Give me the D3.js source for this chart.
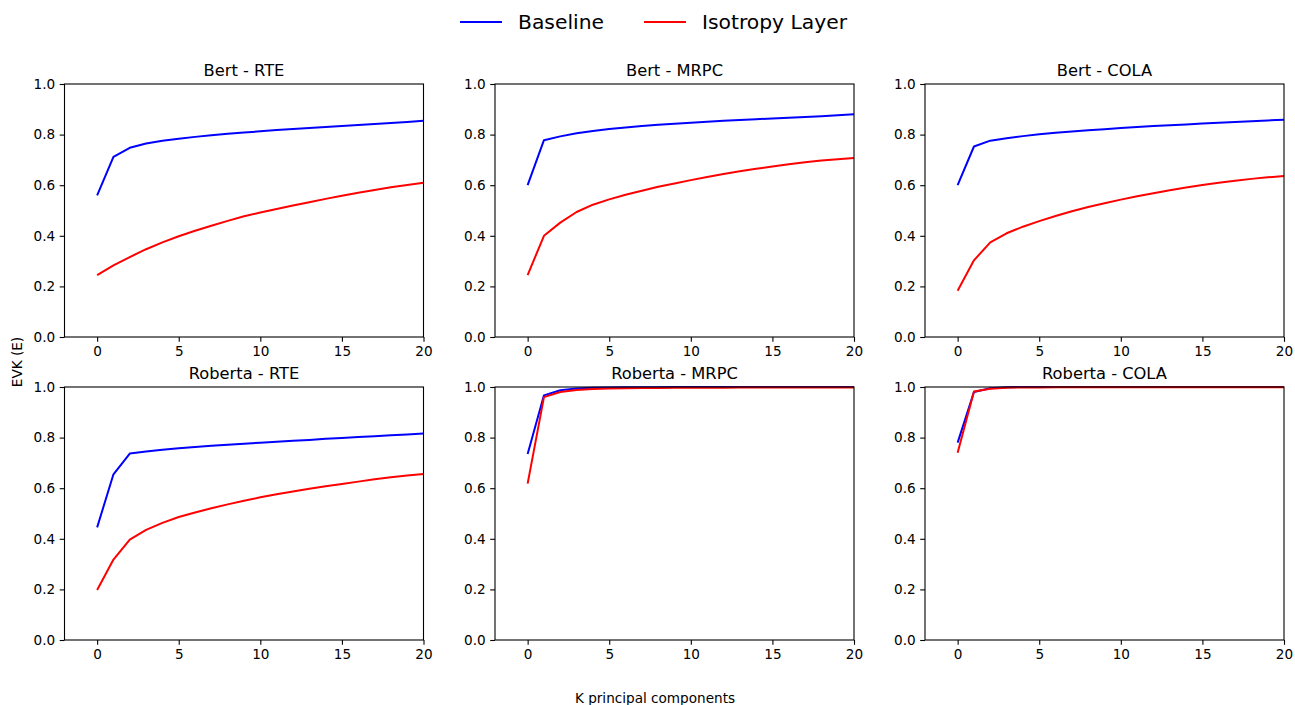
<!DOCTYPE html>
<html>
<head>
<meta charset="utf-8">
<script src="https://cdn.jsdelivr.net/npm/d3@7"></script>
<style>
  body { margin: 0; background: #fff; }
  svg { font-family: "DejaVu Sans", sans-serif; }
</style>
</head>
<body>
<svg id="chart" width="1295" height="705"></svg>
<script>
// K principal components 0..20
const kValues = d3.range(0, 21);

const panelTitles = [
    'Bert - RTE', 'Bert - MRPC', 'Bert - COLA',
    'Roberta - RTE', 'Roberta - MRPC', 'Roberta - COLA'
];

const seriesNames = ['Baseline', 'Isotropy Layer'];
const seriesColors = ['#0000ff', '#ff0000'];

const bertRteBaseline = [0.560, 0.712, 0.748, 0.765, 0.776, 0.784, 0.791, 0.797, 0.803, 0.808, 0.813,
    0.818, 0.822, 0.826, 0.830, 0.834, 0.838, 0.842, 0.846, 0.850, 0.855];
const bertRteIsotropy = [0.245, 0.283, 0.316, 0.347, 0.374, 0.398, 0.420, 0.440, 0.459, 0.477, 0.492,
    0.506, 0.520, 0.533, 0.546, 0.558, 0.570, 0.581, 0.592, 0.601, 0.610];

const bertMrpcBaseline = [0.600, 0.778, 0.793, 0.805, 0.814, 0.822, 0.828, 0.834, 0.839, 0.843, 0.847,
    0.851, 0.855, 0.858, 0.861, 0.864, 0.867, 0.870, 0.873, 0.876, 0.880];
const bertMrpcIsotropy = [0.245, 0.400, 0.452, 0.494, 0.523, 0.544, 0.562, 0.578, 0.594, 0.607, 0.620,
    0.632, 0.644, 0.655, 0.665, 0.674, 0.683, 0.691, 0.698, 0.703, 0.708];

const bertColaBaseline = [0.600, 0.753, 0.776, 0.786, 0.794, 0.801, 0.807, 0.812, 0.817, 0.821, 0.826,
    0.830, 0.834, 0.837, 0.840, 0.844, 0.847, 0.850, 0.853, 0.856, 0.859];
const bertColaIsotropy = [0.183, 0.303, 0.374, 0.410, 0.436, 0.458, 0.478, 0.497, 0.514, 0.529, 0.543,
    0.556, 0.568, 0.580, 0.591, 0.601, 0.610, 0.618, 0.625, 0.631, 0.636];

const robertaRteBaseline = [0.445, 0.655, 0.737, 0.745, 0.752, 0.758, 0.763, 0.768, 0.772, 0.776, 0.780,
    0.784, 0.788, 0.791, 0.795, 0.798, 0.802, 0.805, 0.809, 0.812, 0.816];
const robertaRteIsotropy = [0.198, 0.318, 0.397, 0.435, 0.463, 0.486, 0.504, 0.521, 0.536, 0.550, 0.564,
    0.576, 0.587, 0.598, 0.608, 0.617, 0.626, 0.635, 0.643, 0.650, 0.656];

const robertaMrpcBaseline = [0.735, 0.967, 0.987, 0.994, 0.997, 0.998, 0.999, 0.999, 0.999, 1.000, 1.000,
    1.000, 1.000, 1.000, 1.000, 1.000, 1.000, 1.000, 1.000, 1.000, 1.000];
const robertaMrpcIsotropy = [0.618, 0.960, 0.980, 0.988, 0.992, 0.994, 0.995, 0.996, 0.996, 0.997, 0.997,
    0.997, 0.997, 0.998, 0.998, 0.998, 0.998, 0.998, 0.998, 0.998, 0.998];

const robertaColaBaseline = [0.780, 0.980, 0.995, 0.999, 1.000, 1.000, 1.000, 1.000, 1.000, 1.000, 1.000,
    1.000, 1.000, 1.000, 1.000, 1.000, 1.000, 1.000, 1.000, 1.000, 1.000];
const robertaColaIsotropy = [0.740, 0.982, 0.993, 0.997, 0.998, 0.998, 0.999, 0.999, 0.999, 0.999, 0.999,
    0.999, 0.999, 0.999, 0.999, 0.999, 0.999, 0.999, 0.999, 0.999, 0.999];

const panelSeries = [
    [bertRteBaseline, bertRteIsotropy],
    [bertMrpcBaseline, bertMrpcIsotropy],
    [bertColaBaseline, bertColaIsotropy],
    [robertaRteBaseline, robertaRteIsotropy],
    [robertaMrpcBaseline, robertaMrpcIsotropy],
    [robertaColaBaseline, robertaColaIsotropy]
];

const xTicks = [0, 5, 10, 15, 20];
const yTicks = [0.0, 0.2, 0.4, 0.6, 0.8, 1.0];

// layout (matplotlib-like grid)
const colLeft = [64.5, 495, 925];
const rowTop = [84, 387];
const axW = 359;
const axH = 253;

const svg = d3.select('#chart');

panelSeries.forEach((series, p) => {
    const col = p % 3;
    const row = Math.floor(p / 3);
    const x0 = colLeft[col];
    const y0 = rowTop[row];

    const x = d3.scaleLinear().domain([-2, 20]).range([0, axW]);
    const y = d3.scaleLinear().domain([0, 1]).range([axH, 0]);

    const g = svg.append('g').attr('transform', `translate(${x0}, ${y0})`);

    g.append('clipPath')
        .attr('id', `clip-${p}`)
        .append('rect')
        .attr('x', 0).attr('y', -1.5)
        .attr('width', axW).attr('height', axH + 3);

    const line = d3.line()
        .x((d, i) => x(kValues[i]))
        .y(d => y(d));

    const plot = g.append('g').attr('clip-path', `url(#clip-${p})`);
    series.forEach((vals, s) => {
        plot.append('path')
            .datum(vals)
            .attr('fill', 'none')
            .attr('stroke', seriesColors[s])
            .attr('stroke-width', 2)
            .attr('stroke-linejoin', 'round')
            .attr('d', line);
    });

    const xAxis = g.append('g')
        .attr('transform', `translate(0, ${axH})`)
        .call(d3.axisBottom(x).tickValues(xTicks).tickSize(4.8).tickPadding(4.5).tickFormat(d3.format('d')));
    const yAxis = g.append('g')
        .call(d3.axisLeft(y).tickValues(yTicks).tickSize(4.8).tickPadding(4.5).tickFormat(d3.format('.1f')));

    [xAxis, yAxis].forEach(a => {
        a.attr('font-size', null).attr('font-family', null);
        a.select('.domain').remove();
        a.selectAll('.tick line').attr('stroke', '#000').attr('stroke-width', 1.1);
        a.selectAll('.tick text')
            .attr('fill', '#000')
            .style('font-size', '13.6px')
            .style('font-family', '"DejaVu Sans", sans-serif');
    });

    // spines
    g.append('rect')
        .attr('x', 0).attr('y', 0)
        .attr('width', axW).attr('height', axH)
        .attr('fill', 'none')
        .attr('stroke', '#000')
        .attr('stroke-width', 1.1);

    g.append('text')
        .attr('x', axW / 2)
        .attr('y', -8)
        .attr('text-anchor', 'middle')
        .style('font-size', '16.3px')
        .attr('fill', '#000')
        .text(panelTitles[p]);
});

// shared axis labels
svg.append('text')
    .attr('x', 655)
    .attr('y', 703)
    .attr('text-anchor', 'middle')
    .style('font-size', '13.6px')
    .attr('fill', '#000')
    .text('K principal components');

svg.append('text')
    .attr('transform', 'translate(22, 362) rotate(-90)')
    .attr('text-anchor', 'middle')
    .style('font-size', '13.6px')
    .attr('fill', '#000')
    .text('EVK (E)');

// legend
const legendX = [460, 644];
seriesNames.forEach((name, i) => {
    const lg = svg.append('g').attr('transform', `translate(${legendX[i]}, 22)`);
    lg.append('line')
        .attr('x1', 0).attr('x2', 42)
        .attr('stroke', seriesColors[i])
        .attr('stroke-width', 2);
    lg.append('text')
        .attr('x', 58)
        .attr('y', 7)
        .style('font-size', '20.3px')
        .attr('fill', '#000')
        .text(name);
});
</script>
</body>
</html>
